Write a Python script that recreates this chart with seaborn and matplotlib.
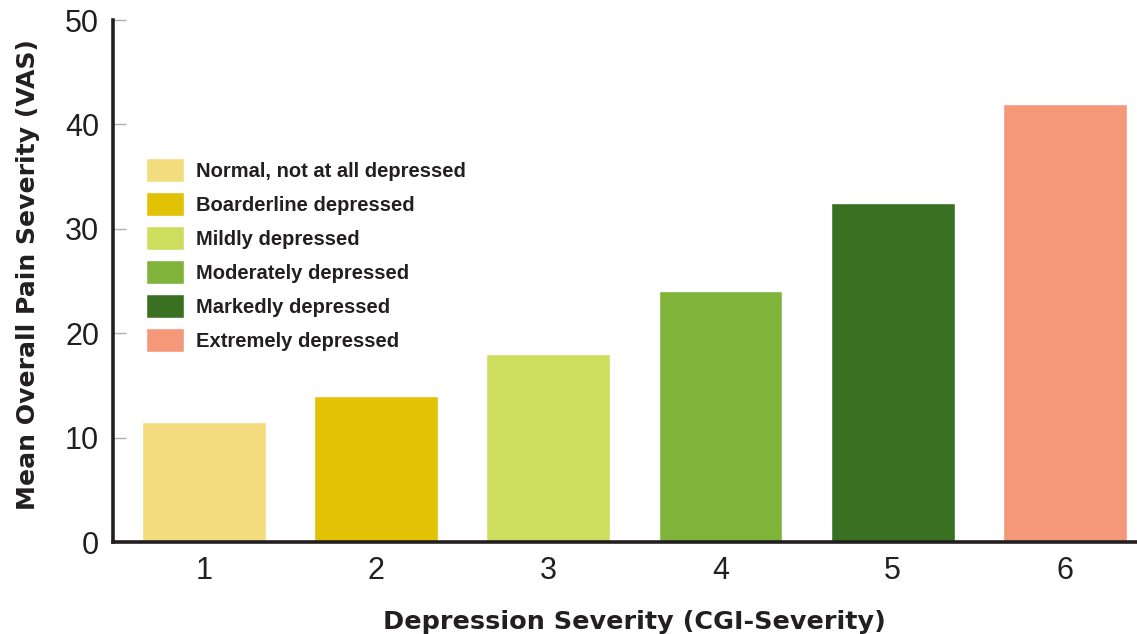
import matplotlib
matplotlib.use("Agg")
import matplotlib.pyplot as plt
import seaborn as sns
import pandas as pd

# CGI-Severity levels and mean VAS pain scores
severity = ["1", "2", "3", "4", "5", "6"]
mean_vas = [11.5, 14.0, 18.0, 24.0, 32.5, 42.0]
levels = [
    "Normal, not at all depressed",
    "Boarderline depressed",
    "Mildly depressed",
    "Moderately depressed",
    "Markedly depressed",
    "Extremely depressed",
]
colors = ["#F2DC7E", "#E2C204", "#CDDE5E", "#80B33A", "#3A7022", "#F5987A"]
y_ticks = [0, 10, 20, 30, 40, 50]

sns.set_theme(style="white")
plt.rcParams["font.family"] = ["Liberation Sans", "DejaVu Sans"]
ink = "#231F20"

df = pd.DataFrame({"severity": severity, "vas": mean_vas, "level": levels})

fig = plt.figure(figsize=(11.37, 6.34), dpi=100)
ax = fig.add_axes([113 / 1137, 92 / 634, 1 - 113 / 1137, (614 - 92) / 634])

sns.barplot(
    data=df, x="severity", y="vas", hue="level",
    hue_order=levels, palette=colors, dodge=False,
    width=0.72, saturation=1, ax=ax,
)

ax.set_ylim(0, 50)
ax.set_xlim(-0.53, 5.42)
ax.set_yticks(y_ticks)
ax.set_yticklabels([str(t) for t in y_ticks])

for side in ("top", "right"):
    ax.spines[side].set_visible(False)
for side in ("left", "bottom"):
    ax.spines[side].set_color(ink)
    ax.spines[side].set_linewidth(2.6)

ax.tick_params(axis="y", direction="in", length=9.5, width=1.0,
               color="#B0B0B0", labelsize=22, labelcolor=ink, pad=10, left=True)
ax.tick_params(axis="x", length=0, labelsize=22, labelcolor=ink, pad=10)

label_font = {"family": "DejaVu Sans", "weight": "bold", "color": ink}
ax.set_ylabel("Mean Overall Pain Severity (VAS)", fontsize=18.1, **label_font)
ax.set_xlabel("Depression Severity (CGI-Severity)", fontsize=18.35, **label_font)
ax.yaxis.set_label_coords(-0.071, 0.5115)
ax.xaxis.set_label_coords(0.509, -0.131)

sns.move_legend(
    ax, "upper left",
    bbox_to_anchor=(146 / 1137, 1 - 158 / 634),
    bbox_transform=fig.transFigure,
    title=None, frameon=False,
    prop={"size": 14.5, "weight": "bold"},
    handlelength=1.89, handleheight=1.45,
    handletextpad=0.58, labelspacing=0.5,
    borderpad=0, borderaxespad=0,
)
for txt in ax.get_legend().get_texts():
    txt.set_color(ink)

fig.savefig("out.png", dpi=100)
